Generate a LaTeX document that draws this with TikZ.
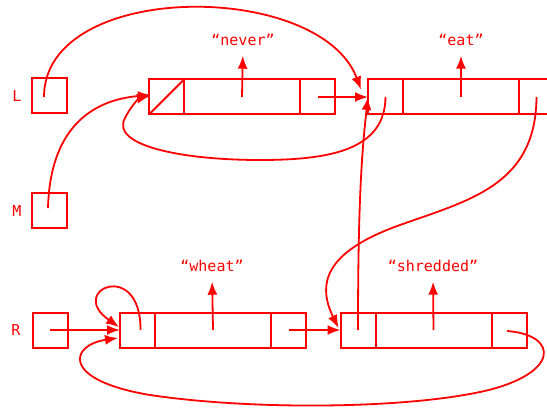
\documentclass[tikz,border=0pt]{standalone}
\usepackage{fontspec}
\setmonofont{DejaVu Sans Mono}
\usetikzlibrary{arrows.meta,positioning,calc}

\begin{document}
\begin{tikzpicture}[x=1pt, y=-1pt, line width=1.8pt, red,
    cell/.style={draw, line width=2pt, minimum width=35pt, minimum height=35pt, inner sep=0pt, outer sep=0pt},
    body/.style={cell, minimum width=116pt},
    ptr/.style={-{Latex[length=13pt,width=10pt]}},
    txt/.style={font=\ttfamily\fontsize{15}{18}\selectfont, inner sep=0pt}]
    \useasboundingbox (0,0) rectangle (547,412);

    % variables
    \node[cell] (Lvar) at (49,96) {};
    \node[txt] (Lname) at (17,96) {L};
    \node[cell] (Mvar) at (49,210) {};
    \node[txt] (Mname) at (17,211) {M};
    \node[cell] (Rvar) at (50,330) {};
    \node[txt] (Rname) at (16,330) {R};

    % top row
    \node[cell] (nevA) at (166.5,97) {};
    \node[body, right=0pt of nevA] (nevB) {};
    \node[cell, right=0pt of nevB] (nevC) {};
    \draw (nevA.south west) -- (nevA.north east);
    \node[txt] (nevLbl) at (243,40) {“never”};

    \node[cell] (eatA) at (385.5,97) {};
    \node[body, right=0pt of eatA] (eatB) {};
    \node[cell, right=0pt of eatB] (eatC) {};
    \node[txt] (eatLbl) at (461,40) {“eat”};

    % bottom row
    \node[cell] (whtA) at (137.5,330) {};
    \node[body, right=0pt of whtA] (whtB) {};
    \node[cell, right=0pt of whtB] (whtC) {};
    \node[txt] (whtLbl) at (212,266) {“wheat”};

    \node[cell] (shrA) at (358,330) {};
    \node[body, right=0pt of shrA] (shrB) {};
    \node[cell, right=0pt of shrB] (shrC) {};
    \node[txt] (shrLbl) at (433,266) {“shredded”};

    % cars
    \foreach \b/\t in {nevB/nevLbl, eatB/eatLbl, whtB/whtLbl, shrB/shrLbl}
        \draw[ptr, shorten >=9pt] (\b.center) -- (\t.south);

    % straight pointers
    \draw[ptr] (nevC.center) -- (eatA.west);
    \draw[ptr] (Rvar.center) -- (whtA.west);
    \draw[ptr] (whtC.center) -- (shrA.west);

    % curved pointers
    \draw[ptr] ($(Lvar.center)+(-5,1)$) .. controls (44,-20) and (320,-20) .. ($(eatA.north west)+(-7,10)$);
    \draw[ptr] ($(Mvar.center)+(-1,-2)$) .. controls (50,130) and (90,100) .. ($(nevA.west)+(2,-2)$);
    \draw[ptr] (eatA.center) .. controls (385,150) and (330,160) .. (260,160)
        .. controls (180,160) and (110,145) .. (125,118)
        .. controls (132,104) and (140,98) .. ($(nevA.west)+(1,-1)$);
    \draw[ptr] (eatC.center) .. controls (536,185) and (470,200) .. (400,225)
        .. controls (330,250) and (315,280) .. ($(shrA.west)+(-2,-2)$);
    \draw[ptr] (shrA.center) .. controls (358,200) and (362,150) .. (eatA.west);
    \draw[ptr] ($(whtA.center)+(3,0)$) .. controls (141,258) and (66,290) .. ($(whtA.west)+(-1,-3)$);
    \draw[ptr] ($(shrC.center)+(-2,1)$) .. controls (560,335) and (560,375) .. (480,392)
        .. controls (400,409) and (250,410) .. (150,395)
        .. controls (60,380) and (70,345) .. ($(whtA.west)+(-2,8)$);
\end{tikzpicture}
\end{document}
